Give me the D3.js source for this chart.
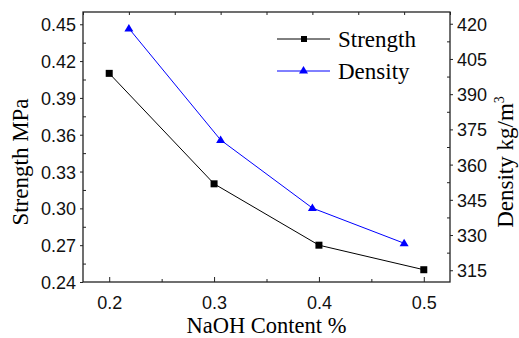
<!DOCTYPE html>
<html><head><meta charset="utf-8">
<script src="https://cdn.jsdelivr.net/npm/d3@7"></script>
<style>body{margin:0;background:#fff}svg{display:block}</style>
</head><body>
<svg id="c" width="519" height="338"></svg>
<script>
const naoh = [0.2, 0.3, 0.4, 0.5];
const strength = [0.41, 0.32, 0.27, 0.25];
const density = [418, 370.5, 341.5, 326.5];
const xTicks = [0.2, 0.3, 0.4, 0.5];
const xMinor = [0.25, 0.35, 0.45];
const strengthTicks = [0.24, 0.27, 0.30, 0.33, 0.36, 0.39, 0.42, 0.45];
const densityTicks = [315, 330, 345, 360, 375, 390, 405, 420];
const topTicks = [0.15, 0.2, 0.25, 0.3, 0.35, 0.4, 0.45, 0.5, 0.55];

const svg = d3.select('#c');
const L = 83, R = 450, T = 12, B = 282;
const x = d3.scaleLinear().domain([0.175, 0.525]).range([L, R]);
const x2 = d3.scaleLinear().domain([0.15, 0.55]).range([L, R]);
const y = d3.scaleLinear().domain([0.24, 0.46]).range([B, T]);
const y2 = d3.scaleLinear().domain([310, 425]).range([B, T]);
const tickFont = 'Liberation Sans, Arial, sans-serif';
const serif = 'Liberation Serif, Times New Roman, serif';
const axisColor = '#222';

function styleAxis(g){
  g.select('.domain').remove();
  g.selectAll('line').attr('stroke', axisColor).attr('stroke-width', 1);
  g.selectAll('text').attr('font-family', tickFont).attr('font-size', 18).attr('fill', '#111');
}
// bottom axis
const gx = svg.append('g').attr('transform', `translate(0,${B})`)
  .call(d3.axisBottom(x).tickValues(xTicks).tickFormat(d3.format('.1f')).tickSizeInner(-5).tickSizeOuter(0).tickPadding(14));
styleAxis(gx);
svg.append('g').attr('transform', `translate(0,${B})`)
  .call(d3.axisBottom(x).tickValues(xMinor).tickFormat('').tickSizeInner(-3).tickSizeOuter(0))
  .call(styleAxis);
// top axis (density x positions)
svg.append('g').attr('transform', `translate(0,${T})`)
  .call(d3.axisTop(x2).tickValues(topTicks).tickFormat('').tickSize(-3).tickSizeOuter(0))
  .call(styleAxis);
// left axis
const gy = svg.append('g').attr('transform', `translate(${L},0)`)
  .call(d3.axisLeft(y).tickValues(strengthTicks).tickFormat(d3.format('.2f')).tickSizeInner(3).tickSizeOuter(0).tickPadding(4));
styleAxis(gy);
gy.selectAll('text').attr('dy', '0.36em');
svg.append('g').attr('transform', `translate(${L},0)`)
  .call(d3.axisLeft(y).tickValues(d3.range(0.255, 0.46, 0.03)).tickFormat('').tickSizeInner(-3).tickSizeOuter(0))
  .call(styleAxis);
// right axis
const gy2 = svg.append('g').attr('transform', `translate(${R},0)`)
  .call(d3.axisRight(y2).tickValues(densityTicks).tickFormat(d3.format('d')).tickSizeInner(3).tickSizeOuter(0).tickPadding(4));
styleAxis(gy2);
gy2.selectAll('text').attr('dy', '0.36em');
svg.append('g').attr('transform', `translate(${R},0)`)
  .call(d3.axisRight(y2).tickValues(d3.range(322.5, 425, 15)).tickFormat('').tickSizeInner(-3).tickSizeOuter(0))
  .call(styleAxis);
// frame
svg.append('rect').attr('x', L).attr('y', T).attr('width', R - L).attr('height', B - T)
  .attr('fill', 'none').attr('stroke', axisColor).attr('stroke-width', 1.3);

// series
const sData = naoh.map((d, i) => [d, strength[i]]);
const dData = naoh.map((d, i) => [d, density[i]]);
svg.append('path').datum(sData).attr('fill', 'none').attr('stroke', '#000').attr('stroke-width', 1)
  .attr('d', d3.line().x(d => x(d[0])).y(d => y(d[1])));
svg.selectAll('rect.sq').data(sData).enter().append('rect').attr('class', 'sq')
  .attr('x', d => x(d[0]) - 3.5).attr('y', d => y(d[1]) - 3.5).attr('width', 7).attr('height', 7).attr('fill', '#000');
svg.append('path').datum(dData).attr('fill', 'none').attr('stroke', '#0000ff').attr('stroke-width', 1)
  .attr('d', d3.line().x(d => x2(d[0])).y(d => y2(d[1])));
const tri = 'M0,-4.5L4.5,3L-4.5,3Z';
svg.selectAll('path.tri').data(dData).enter().append('path').attr('class', 'tri')
  .attr('transform', d => `translate(${x2(d[0])},${y2(d[1])})`).attr('d', tri).attr('fill', '#0000ff');

// legend
const leg = svg.append('g');
leg.append('line').attr('x1', 277).attr('x2', 330).attr('y1', 39).attr('y2', 39).attr('stroke', '#000');
leg.append('rect').attr('x', 301).attr('y', 36).attr('width', 6).attr('height', 6).attr('fill', '#000');
leg.append('text').attr('x', 338).attr('y', 47).text('Strength').attr('font-family', serif).attr('font-size', 23);
leg.append('line').attr('x1', 277).attr('x2', 330).attr('y1', 71).attr('y2', 71).attr('stroke', '#0000ff');
leg.append('path').attr('transform', 'translate(303.5,70.5)').attr('d', tri).attr('fill', '#0000ff');
leg.append('text').attr('x', 338).attr('y', 79).text('Density').attr('font-family', serif).attr('font-size', 23);

// axis titles
svg.append('text').attr('x', (L + R) / 2).attr('y', 333).attr('text-anchor', 'middle')
  .attr('font-family', serif).attr('font-size', 22.5).text('NaOH Content %');
svg.append('text').attr('transform', 'translate(28,162) rotate(-90)').attr('text-anchor', 'middle')
  .attr('font-family', serif).attr('font-size', 23).text('Strength MPa');
const rt = svg.append('text').attr('transform', 'translate(513,162) rotate(-90)').attr('text-anchor', 'middle')
  .attr('font-family', serif).attr('font-size', 23);
rt.append('tspan').text('Density kg/m');
rt.append('tspan').attr('dy', -9).attr('font-size', 14).text('3');
</script>
</body></html>
